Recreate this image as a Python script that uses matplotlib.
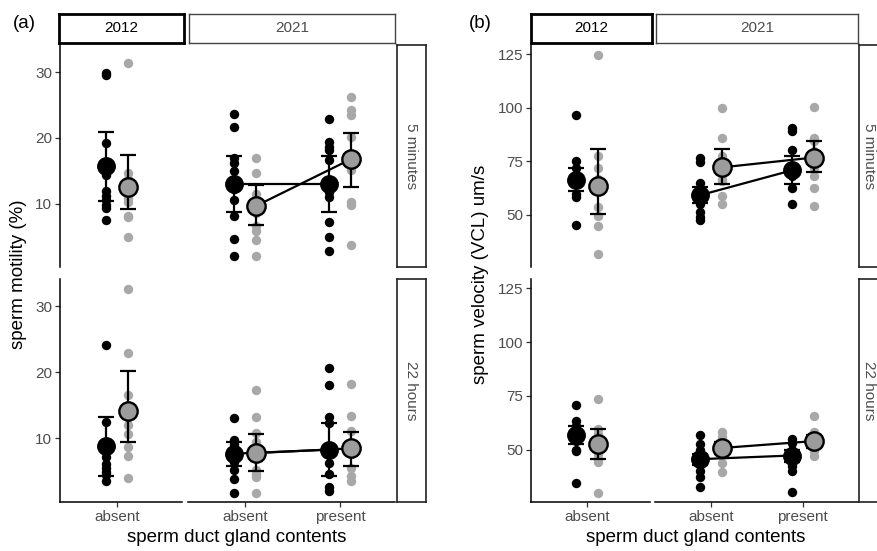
import matplotlib
matplotlib.use("Agg")
import matplotlib.pyplot as plt

W, H = 878, 551

years = ["2012", "2021"]
times = ["5 minutes", "22 hours"]
cats_2012 = ["absent"]
cats_2021 = ["absent", "present"]

# ---------------- (a) sperm motility (%) ----------------
# 5 minutes, raw points
mot5_blk_2012_abs = [29.9, 29.5, 19.2, 16.0, 14.3, 11.9, 11.2, 10.5, 9.8, 9.4, 7.5]
mot5_gry_2012_abs = [31.3, 14.6, 13.8, 12.0, 10.8, 10.2, 8.2, 8.0, 4.9]
mot5_blk_2021_abs = [23.7, 21.7, 16.9, 16.2, 15.0, 13.5, 12.2, 10.5, 8.1, 4.7, 2.1]
mot5_gry_2021_abs = [16.9, 14.6, 11.5, 10.3, 8.6, 6.6, 5.8, 4.5, 2.0]
mot5_blk_2021_pres = [22.9, 19.4, 18.6, 18.2, 16.6, 13.5, 11.8, 11.0, 7.3, 5.0, 2.9]
mot5_gry_2021_pres = [26.2, 24.3, 23.5, 20.2, 17.5, 15.2, 10.3, 9.8, 3.8]
# 5 minutes, means and intervals (2012 absent, 2021 absent, 2021 present)
mot5_blk_mean = [15.7, 13.0, 13.0]
mot5_blk_lo = [10.4, 8.7, 8.8]
mot5_blk_hi = [20.9, 17.2, 17.3]
mot5_gry_mean = [12.6, 9.7, 16.8]
mot5_gry_lo = [9.2, 6.7, 12.5]
mot5_gry_hi = [17.4, 12.8, 20.8]
# 22 hours
mot22_blk_2012_abs = [24.1, 12.5, 9.5, 8.8, 8.0, 7.2, 6.2, 5.5, 4.9, 4.5, 3.5]
mot22_gry_2012_abs = [32.6, 22.9, 16.5, 13.2, 12.0, 10.7, 8.7, 7.4, 4.1]
mot22_blk_2021_abs = [13.1, 9.7, 9.2, 8.6, 7.9, 7.2, 6.5, 5.2, 3.9, 1.7]
mot22_gry_2021_abs = [17.4, 13.3, 10.9, 9.5, 7.0, 5.2, 4.6, 4.2, 1.8]
mot22_blk_2021_pres = [20.7, 18.1, 13.3, 12.4, 8.7, 7.8, 6.3, 4.7, 2.7, 2.1]
mot22_gry_2021_pres = [18.2, 13.4, 11.1, 9.2, 7.7, 5.6, 4.4, 3.6]
mot22_blk_mean = [8.8, 7.7, 8.3]
mot22_blk_lo = [4.4, 5.9, 4.3]
mot22_blk_hi = [13.2, 9.5, 12.3]
mot22_gry_mean = [14.1, 7.8, 8.5]
mot22_gry_lo = [9.45, 5.1, 5.9]
mot22_gry_hi = [20.2, 10.7, 11.0]

# ---------------- (b) sperm velocity (VCL) um/s ----------------
vcl5_blk_2012_abs = [96.4, 75.0, 72.0, 68.0, 66.0, 64.5, 60.0, 58.5, 45.1]
vcl5_gry_2012_abs = [124.8, 77.5, 72.0, 67.0, 62.0, 53.6, 49.5, 44.8, 31.6]
vcl5_blk_2021_abs = [76.5, 74.5, 65.0, 62.0, 60.0, 58.0, 55.0, 51.5, 49.0, 47.5]
vcl5_gry_2021_abs = [100.1, 86.0, 77.5, 71.0, 67.0, 66.0, 58.8, 55.0]
vcl5_blk_2021_pres = [90.5, 89.0, 80.5, 72.5, 70.0, 68.0, 62.5, 55.0]
vcl5_gry_2021_pres = [100.2, 86.0, 84.5, 80.0, 75.5, 72.0, 68.2, 62.8, 54.3]
vcl5_blk_mean = [66.5, 59.2, 70.8]
vcl5_blk_lo = [61.0, 55.5, 64.5]
vcl5_blk_hi = [72.0, 63.0, 77.5]
vcl5_gry_mean = [63.5, 72.2, 76.8]
vcl5_gry_lo = [50.4, 64.3, 70.0]
vcl5_gry_hi = [80.6, 80.6, 84.5]

vcl22_blk_2012_abs = [70.6, 63.5, 61.0, 58.5, 56.5, 54.0, 50.0, 49.5, 34.6]
vcl22_gry_2012_abs = [73.5, 59.5, 57.5, 52.0, 48.0, 45.5, 44.5, 29.9]
vcl22_blk_2021_abs = [57.0, 52.5, 50.0, 47.5, 46.0, 45.0, 43.0, 40.0, 37.5, 32.8]
vcl22_gry_2021_abs = [58.0, 56.0, 53.0, 49.5, 48.0, 44.0, 39.5]
vcl22_blk_2021_pres = [55.0, 53.0, 50.0, 48.0, 46.5, 44.5, 42.5, 40.0, 30.5]
vcl22_gry_2021_pres = [65.7, 58.0, 57.0, 54.5, 53.0, 49.5, 47.2]
vcl22_blk_mean = [56.8, 45.6, 47.3]
vcl22_blk_lo = [52.5, 43.0, 44.5]
vcl22_blk_hi = [61.0, 48.2, 50.0]
vcl22_gry_mean = [52.7, 50.8, 54.0]
vcl22_gry_lo = [45.5, 48.0, 51.0]
vcl22_gry_hi = [59.5, 53.5, 57.0]

mot_yticks = [10, 20, 30]
vcl_yticks = [50, 75, 100, 125]

# -------------------------------------------------------------
plt.rcParams['font.family'] = ['Liberation Sans', 'DejaVu Sans']
fig = plt.figure(figsize=(W / 100, H / 100), dpi=100)

BLACK = '#000000'
GREY_PT = '#A8A8A8'
GREY_MEAN = '#9C9C9C'
TICKCOL = '#4D4D4D'
DODGE = 0.12


def rect(x0, y0, x1, y1):
    return [x0 / W, 1 - y1 / H, (x1 - x0) / W, (y1 - y0) / H]


def strip(x0, y0, x1, y1, text, rot=0, lw=1.0, tcol=TICKCOL, ecol='#333333', fam=None, tx=0.5):
    ax = fig.add_axes(rect(x0, y0, x1, y1))
    ax.set_xticks([])
    ax.set_yticks([])
    for s in ax.spines.values():
        s.set_linewidth(lw)
        s.set_edgecolor(ecol)
    kw = {}
    if fam:
        kw['family'] = fam
    ax.text(tx, 0.5, text, rotation=rot, ha='center', va='center', fontsize=11,
            color=tcol, transform=ax.transAxes, **kw)
    return ax


def build(prefix):
    g = globals()
    out = {}
    for t in ['5', '22']:
        blk = [g[f'{prefix}{t}_blk_2012_abs'], g[f'{prefix}{t}_blk_2021_abs'], g[f'{prefix}{t}_blk_2021_pres']]
        gry = [g[f'{prefix}{t}_gry_2012_abs'], g[f'{prefix}{t}_gry_2021_abs'], g[f'{prefix}{t}_gry_2021_pres']]
        out[t] = dict(blk=blk, gry=gry,
                      bm=g[f'{prefix}{t}_blk_mean'], bl=g[f'{prefix}{t}_blk_lo'], bh=g[f'{prefix}{t}_blk_hi'],
                      gm=g[f'{prefix}{t}_gry_mean'], gl=g[f'{prefix}{t}_gry_lo'], gh=g[f'{prefix}{t}_gry_hi'])
    return out


def draw_cell(ax, d, col):
    if col == 0:
        idxs = [0]
        cats = cats_2012
    else:
        idxs = [1, 2]
        cats = cats_2021
    pos = list(range(1, len(cats) + 1))
    for p, i in zip(pos, idxs):
        ax.scatter([p - DODGE] * len(d['blk'][i]), d['blk'][i], s=46, color=BLACK, lw=0, zorder=2)
        ax.scatter([p + DODGE] * len(d['gry'][i]), d['gry'][i], s=46, color=GREY_PT, lw=0, zorder=2)
    bx = [p - DODGE for p in pos]
    gx = [p + DODGE for p in pos]
    bm = [d['bm'][i] for i in idxs]
    gm = [d['gm'][i] for i in idxs]
    if len(pos) > 1:
        ax.plot(bx, bm, color=BLACK, lw=1.6, zorder=3)
        ax.plot(gx, gm, color=BLACK, lw=1.6, zorder=3)
    for x, i in zip(bx, idxs):
        ax.errorbar([x], [d['bm'][i]], yerr=[[d['bm'][i] - d['bl'][i]], [d['bh'][i] - d['bm'][i]]],
                    fmt='none', ecolor=BLACK, elinewidth=1.6, capsize=6, capthick=1.6, zorder=4)
    for x, i in zip(gx, idxs):
        ax.errorbar([x], [d['gm'][i]], yerr=[[d['gm'][i] - d['gl'][i]], [d['gh'][i] - d['gm'][i]]],
                    fmt='none', ecolor=BLACK, elinewidth=1.6, capsize=6, capthick=1.6, zorder=4)
    ax.scatter(bx, bm, s=185, color=BLACK, lw=0, zorder=5)
    ax.scatter(gx, gm, s=175, facecolor=GREY_MEAN, edgecolor=BLACK, lw=1.7, zorder=5)
    return pos, cats


def draw_figure(spec):
    data = spec['data']
    rows_y = [(45, 267), (279, 502)]
    for r, t in enumerate(['5', '22']):
        for c in range(2):
            x0, x1 = spec['col_x'][c]
            y0, y1 = rows_y[r]
            ax = fig.add_axes(rect(x0, y0, x1, y1))
            pos, cats = draw_cell(ax, data[t], c)
            ax.set_xlim(*spec['xlims'][c])
            ax.set_ylim(*spec['ylim'])
            for s in ['top', 'right']:
                ax.spines[s].set_visible(False)
            ax.spines['left'].set_visible(c == 0)
            ax.spines['bottom'].set_visible(r == 1)
            for s in ['left', 'bottom']:
                ax.spines[s].set_linewidth(1.1)
            ax.patch.set_alpha(0)
            if c == 0:
                ax.set_yticks(spec['yticks'])
                ax.tick_params(axis='y', length=3.5, width=0.9, color='#333333',
                               labelsize=11, labelcolor=TICKCOL, pad=2)
            else:
                ax.set_yticks([])
            if r == 1:
                ax.set_xticks(pos)
                ax.set_xticklabels(cats)
                ax.tick_params(axis='x', length=3.5, width=0.9, color='#333333',
                               labelsize=11, labelcolor=TICKCOL, pad=2)
            else:
                ax.set_xticks([])
        # row strip
        rx0, rx1 = spec['rowstrip_x']
        strip(rx0, rows_y[r][0], rx1, rows_y[r][1], times[r], rot=-90, lw=1.2, ecol='#222222',
              tx=spec['rowtext_x'])
    # column strips
    sx = spec['strip_x']
    strip(sx[0][0], 14, sx[0][1], 43, years[0], lw=2.0, tcol=BLACK, ecol=BLACK,
          fam=['Liberation Sans Narrow', 'Liberation Sans'])
    strip(sx[1][0], 14, sx[1][1], 43, years[1], lw=1.0, tcol=TICKCOL, ecol='#444444')
    # labels
    fig.text(spec['tag_x'] / W, 1 - 24 / H, spec['tag'], fontsize=13.5, ha='center', va='center')
    fig.text(spec['ylab_x'] / W, 1 - 274 / H, spec['ylab'], fontsize=13.5, rotation=90,
             ha='center', va='center')
    fig.text(spec['xlab_x'] / W, 1 - 538 / H, 'sperm duct gland contents', fontsize=13.5,
             ha='center', va='center')


spec_a = dict(data=build('mot'), col_x=[(60, 182), (188, 395)], strip_x=[(59, 184), (189, 395)],
              rowstrip_x=(397, 426), rowtext_x=0.5, xlims=[(0.4, 1.684), (0.4, 2.58)], ylim=(0.4, 34.1),
              yticks=mot_yticks, tag='(a)', tag_x=24, ylab='sperm motility (%)', ylab_x=19,
              xlab_x=237)
spec_b = dict(data=build('vcl'), col_x=[(531, 650), (655, 858)], strip_x=[(531, 652), (656, 858)],
              rowstrip_x=(859, 890), rowtext_x=0.33, xlims=[(0.39, 1.685), (0.39, 2.6)], ylim=(25.7, 129.3),
              yticks=vcl_yticks, tag='(b)', tag_x=480, ylab='sperm velocity (VCL) um/s', ylab_x=481,
              xlab_x=696)

draw_figure(spec_a)
draw_figure(spec_b)

fig.savefig('out.png', dpi=100)
